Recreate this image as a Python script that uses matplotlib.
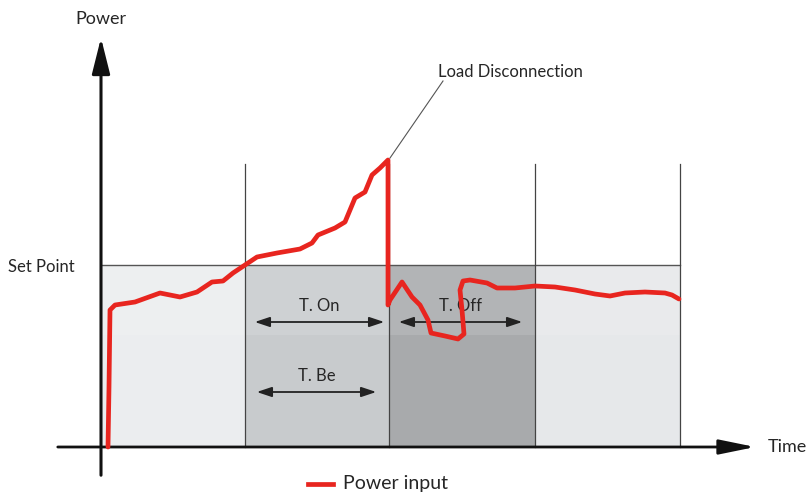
import numpy as np
import matplotlib
matplotlib.use('Agg')
import matplotlib.pyplot as plt

# phase boundaries along the time axis and the set point level
phase_edges = [0, 144, 288, 434, 579]
phase_colors = ['#ebedef', '#c8cbcd', '#a8aaac', '#e6e8ea']
set_point = 182
phase_top = 283

# power input curve (time, power)
curve_t = [7, 8, 9, 14, 34, 59, 79, 96, 111, 122, 132, 144, 156, 176, 199, 211, 217,
           234, 244, 249, 254, 264, 271, 279, 287, 287, 289, 301, 311, 319, 327, 330,
           344, 357, 363, 361, 359, 362, 369, 386, 396, 414, 434, 454, 474, 494, 509,
           524, 544, 564, 571, 578]
curve_p = [0, 60, 137, 142, 145, 154, 150, 155, 165, 166, 174, 182, 190, 194, 198, 204, 212,
           219, 225, 237, 249, 255, 272, 279, 287, 142, 147, 165, 150, 142, 127, 114,
           111, 108, 113, 137, 157, 166, 167, 164, 159, 159, 161, 160, 157, 153, 151,
           154, 155, 154, 152, 148]

fig = plt.figure(figsize=(8.08, 5.01), dpi=100)
ax = fig.add_axes([0, 0, 1, 1])
ax.set_xlim(-101, 707)
ax.set_ylim(-54, 447)
ax.axis('off')

font = 'Lato'
tc = '#262626'

# shaded phases, upper band a touch lighter
for i in range(4):
    x0, x1 = phase_edges[i], phase_edges[i + 1]
    ax.fill_between([x0, x1], 0, set_point, color=phase_colors[i], lw=0, zorder=1)
    ax.fill_between([x0, x1], set_point - 70, set_point, color='white', alpha=0.12, lw=0, zorder=1)

# set point line and phase separators
ax.plot([0, phase_edges[-1]], [set_point, set_point], color='#555555', lw=1.0, zorder=2)
for x in phase_edges[1:]:
    ax.plot([x, x], [0, phase_top], color='#444444', lw=0.9, zorder=2)

# axes arrows
ax.annotate('', xy=(0, 412), xytext=(0, -31),
            arrowprops=dict(arrowstyle='-|>,head_length=2.2,head_width=0.55', color='#111111', lw=2.2),
            zorder=5)
ax.annotate('', xy=(657, 0), xytext=(-46, 0),
            arrowprops=dict(arrowstyle='-|>,head_length=2.2,head_width=0.45', color='#111111', lw=2.0),
            zorder=5)

ax.text(0, 428, 'Power', ha='center', va='center', fontsize=13, family=font, color=tc)
ax.text(667, 0, 'Time', ha='left', va='center', fontsize=13, family=font, color=tc)
ax.text(-26, set_point - 2, 'Set Point', ha='right', va='center', fontsize=12, family=font, color=tc)

# duration arrows
def span(x0, x1, y, label):
    ax.annotate('', xy=(x1, y), xytext=(x0, y),
                arrowprops=dict(arrowstyle='<|-|>,head_length=0.9,head_width=0.3', color='#222222', lw=1.3),
                zorder=4)
    ax.text((x0 + x1) / 2, y + 16, label, ha='center', va='center', fontsize=12, family=font,
            color=tc, zorder=4)

span(151, 286, 125, 'T. On')
span(153, 278, 55, 'T. Be')
span(295, 424, 125, 'T. Off')

# power curve
ax.plot(curve_t, curve_p, color='#e8251f', lw=3.4, solid_joinstyle='round', solid_capstyle='round',
        zorder=6, label='Power input')

# load disconnection callout
ax.plot([289, 342], [289, 366], color='#555555', lw=0.8, zorder=6)
ax.text(337, 375, 'Load Disconnection', ha='left', va='center', fontsize=12, family=font, color=tc)

# legend
ax.plot([207, 232], [-37, -37], color='#e8251f', lw=3.4)
ax.text(242, -37, 'Power input', ha='left', va='center', fontsize=14, family=font, color=tc)

fig.savefig('out.png', dpi=100)
